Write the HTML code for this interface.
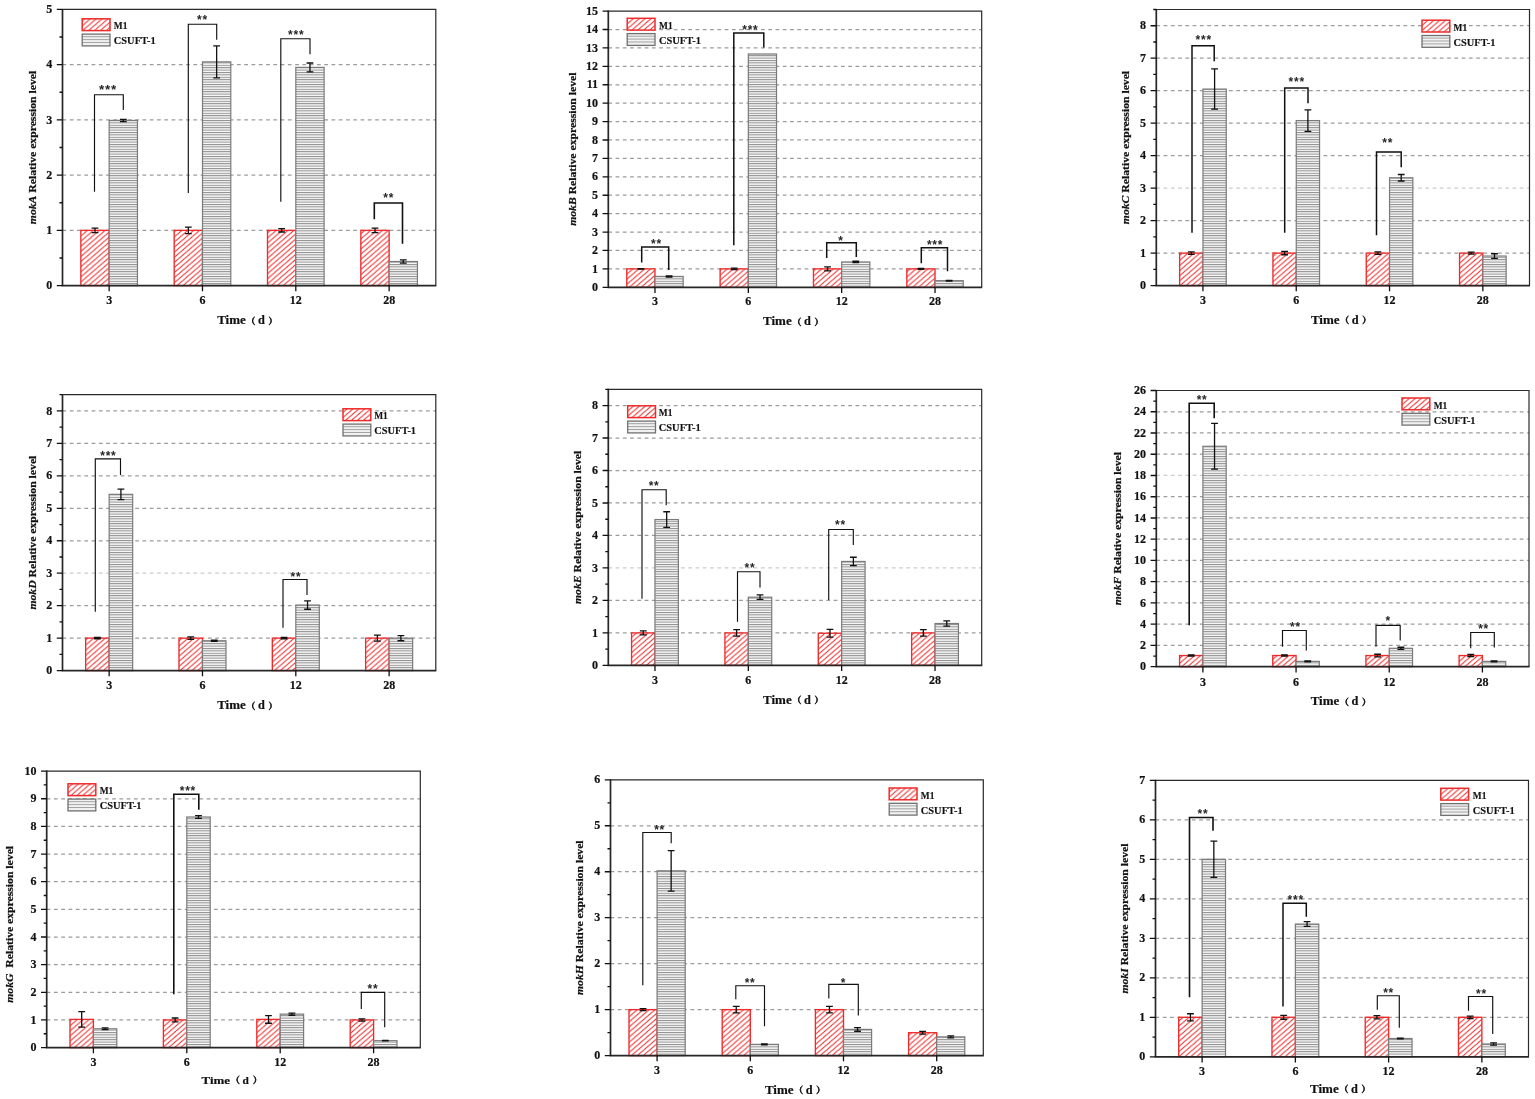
<!DOCTYPE html>
<html lang="en"><head><meta charset="utf-8"><title>mok gene relative expression levels</title>
<style>html,body{margin:0;padding:0;background:#fff}body{width:1535px;height:1099px;overflow:hidden}svg{display:block}text{font-family:"Liberation Serif","Noto Serif CJK SC",serif;font-weight:bold;fill:#111;stroke:#111;stroke-width:0.2px}.cj{font-family:"Noto Serif CJK SC","Liberation Serif",serif;font-weight:bold;stroke-width:0.6px}.st{font-family:"Liberation Sans",sans-serif;font-weight:bold;fill:#262626;stroke:none;letter-spacing:0.75px}.lg{stroke-width:0.14px}.yl{stroke-width:0.22px}.x7{font-family:"Noto Serif CJK SC","Liberation Serif",serif}</style></head><body>
<svg width="1535" height="1099" viewBox="0 0 1535 1099">
<defs>
<pattern id="hr" width="5.9" height="5.1" patternUnits="userSpaceOnUse"><rect width="5.9" height="5.1" fill="#fff"/><path d="M-5.9 5.1L5.9 -5.1M0 10.2L11.8 0M-5.9 10.2L5.9 0" stroke="#ee2a2a" stroke-width="1.05" fill="none"/></pattern>
<pattern id="hg" width="8" height="2.4" patternUnits="userSpaceOnUse"><rect width="8" height="2.4" fill="#fafafa"/><rect width="8" height="1.0" fill="#8c8c8c"/></pattern>
<pattern id="hg2" width="8" height="2.6" patternUnits="userSpaceOnUse"><rect width="8" height="2.6" fill="#e4e4e4"/><rect width="8" height="0.9" fill="#8a8a8a"/></pattern>
</defs>
<rect width="1535" height="1099" fill="#fff"/>
<g id="panel-A">
<line x1="62.5" y1="230.36" x2="435.8" y2="230.36" stroke="#9c9c9c" stroke-width="1.25" stroke-dasharray="3.75 3.52"/>
<line x1="62.5" y1="175.12" x2="435.8" y2="175.12" stroke="#9c9c9c" stroke-width="1.25" stroke-dasharray="3.75 3.52"/>
<line x1="62.5" y1="119.88" x2="435.8" y2="119.88" stroke="#9c9c9c" stroke-width="1.25" stroke-dasharray="3.75 3.52"/>
<line x1="62.5" y1="64.64" x2="435.8" y2="64.64" stroke="#9c9c9c" stroke-width="1.25" stroke-dasharray="3.75 3.52"/>
<rect x="80.86" y="230.36" width="28.3" height="55.24" fill="url(#hr)" stroke="#ee2a2a" stroke-width="1.35"/>
<rect x="109.16" y="120.43" width="28.3" height="165.17" fill="url(#hg)" stroke="#7a7a7a" stroke-width="1.2"/>
<rect x="174.19" y="230.36" width="28.3" height="55.24" fill="url(#hr)" stroke="#ee2a2a" stroke-width="1.35"/>
<rect x="202.49" y="61.88" width="28.3" height="223.72" fill="url(#hg)" stroke="#7a7a7a" stroke-width="1.2"/>
<rect x="267.51" y="230.36" width="28.3" height="55.24" fill="url(#hr)" stroke="#ee2a2a" stroke-width="1.35"/>
<rect x="295.81" y="67.4" width="28.3" height="218.2" fill="url(#hg)" stroke="#7a7a7a" stroke-width="1.2"/>
<rect x="360.84" y="230.36" width="28.3" height="55.24" fill="url(#hr)" stroke="#ee2a2a" stroke-width="1.35"/>
<rect x="389.14" y="261.52" width="28.3" height="24.08" fill="url(#hg)" stroke="#7a7a7a" stroke-width="1.2"/>
<path d="M91.61 228.15H98.41M91.61 232.57H98.41M95.01 228.15V232.57" fill="none" stroke="#111" stroke-width="1.3"/>
<path d="M119.91 119.33H126.71M119.91 121.54H126.71M123.31 119.33V121.54" fill="none" stroke="#111" stroke-width="1.3"/>
<path d="M184.94 227.05H191.74M184.94 233.67H191.74M188.34 227.05V233.67" fill="none" stroke="#111" stroke-width="1.3"/>
<path d="M213.24 45.86H220.04M213.24 77.9H220.04M216.64 45.86V77.9" fill="none" stroke="#111" stroke-width="1.3"/>
<path d="M278.26 228.7H285.06M278.26 232.02H285.06M281.66 228.7V232.02" fill="none" stroke="#111" stroke-width="1.3"/>
<path d="M306.56 62.98H313.36M306.56 71.82H313.36M309.96 62.98V71.82" fill="none" stroke="#111" stroke-width="1.3"/>
<path d="M371.59 228.15H378.39M371.59 232.57H378.39M374.99 228.15V232.57" fill="none" stroke="#111" stroke-width="1.3"/>
<path d="M399.89 259.86H406.69M399.89 263.17H406.69M403.29 259.86V263.17" fill="none" stroke="#111" stroke-width="1.3"/>
<path d="M62.5 9.4H435.8V285.6" fill="none" stroke="#2a2a2a" stroke-width="1.2"/>
<path d="M62.5 8.9V285.6H436.3" fill="none" stroke="#262626" stroke-width="1.7" stroke-linejoin="miter"/>
<path d="M62.5 285.6h-5.7M62.5 230.36h-5.7M62.5 175.12h-5.7M62.5 119.88h-5.7M62.5 64.64h-5.7M62.5 9.4h-5.7M62.5 257.98h-3M62.5 202.74h-3M62.5 147.5h-3M62.5 92.26h-3M62.5 37.02h-3M109.16 285.6v5.7M202.49 285.6v5.7M295.81 285.6v5.7M389.14 285.6v5.7" fill="none" stroke="#111" stroke-width="1.3"/>
<g font-size="12.0" text-anchor="end">
<text x="52.2" y="289.22">0</text>
<text x="52.2" y="233.98">1</text>
<text x="52.2" y="178.74">2</text>
<text x="52.2" y="123.5">3</text>
<text x="52.2" y="68.26">4</text>
<text x="52.2" y="13.02">5</text>
</g>
<g font-size="12.0" text-anchor="middle">
<text x="109.16" y="304.4">3</text>
<text x="202.49" y="304.4">6</text>
<text x="295.81" y="304.4">12</text>
<text x="389.14" y="304.4">28</text>
</g>
<text y="324.3" font-size="12.3"><tspan x="217.2" textLength="28.6" lengthAdjust="spacingAndGlyphs">Time</tspan><tspan class="cj" font-size="8.8" x="246.57" dy="-0.6">（</tspan><tspan x="258.1" dy="0.6">d</tspan><tspan class="cj" font-size="8.8" x="268.57" dy="-0.6">）</tspan></text>
<text class="yl" x="0" y="0" font-size="11.04" text-anchor="middle" transform="translate(35.5 147.5) rotate(-90) scale(1.06 1)"><tspan font-style="italic">mokA</tspan> Relative expression level</text>
<rect x="82.2" y="34.1" width="27.8" height="11.8" fill="#f1f1f1" stroke="none"/>
<path d="M82.2 36.7h27.8M82.2 39.6h27.8M82.2 42.5h27.8" fill="none" stroke="#9a9a9a" stroke-width="0.9"/>
<rect x="82.2" y="34.1" width="27.8" height="11.8" fill="none" stroke="#707070" stroke-width="1.3"/>
<rect x="82.2" y="18.8" width="27.8" height="11.8" fill="url(#hr)" stroke="#ee2a2a" stroke-width="1.5"/>
<text class="lg" x="113.8" y="29.4" font-size="10" textLength="13.6" lengthAdjust="spacingAndGlyphs">M1</text>
<text class="lg" x="113.8" y="44.3" font-size="10" textLength="41.9" lengthAdjust="spacingAndGlyphs">CSUFT-1</text>
<path d="M94.5 191.7V94.7H123.3V110" fill="none" stroke="#111" stroke-width="1.15"/>
<text class="st" x="107.9" y="94.39" font-size="13.5" text-anchor="middle">***</text>
<path d="M188.3 193V24.2H216.7V39.7" fill="none" stroke="#111" stroke-width="1.15"/>
<text class="st" x="202.4" y="23.62" font-size="12.0" text-anchor="middle">**</text>
<path d="M280.8 201.7V38.7H310V54.2" fill="none" stroke="#111" stroke-width="1.15"/>
<text class="st" x="296.2" y="38.92" font-size="12.0" text-anchor="middle">***</text>
<path d="M374.3 219.2V203H402.5V243.7" fill="none" stroke="#111" stroke-width="1.6"/>
<text class="st" x="388.7" y="202.42" font-size="12.0" text-anchor="middle">**</text>
</g>
<g id="panel-B">
<line x1="608.3" y1="268.89" x2="981.7" y2="268.89" stroke="#9c9c9c" stroke-width="1.25" stroke-dasharray="3.75 3.52"/>
<line x1="608.3" y1="250.47" x2="981.7" y2="250.47" stroke="#9c9c9c" stroke-width="1.25" stroke-dasharray="3.75 3.52"/>
<line x1="608.3" y1="232.06" x2="981.7" y2="232.06" stroke="#9c9c9c" stroke-width="1.25" stroke-dasharray="3.75 3.52"/>
<line x1="608.3" y1="213.65" x2="981.7" y2="213.65" stroke="#9c9c9c" stroke-width="1.25" stroke-dasharray="3.75 3.52"/>
<line x1="608.3" y1="195.23" x2="981.7" y2="195.23" stroke="#9c9c9c" stroke-width="1.25" stroke-dasharray="3.75 3.52"/>
<line x1="608.3" y1="176.82" x2="981.7" y2="176.82" stroke="#9c9c9c" stroke-width="1.25" stroke-dasharray="3.75 3.52"/>
<line x1="608.3" y1="158.41" x2="981.7" y2="158.41" stroke="#9c9c9c" stroke-width="1.25" stroke-dasharray="3.75 3.52"/>
<line x1="608.3" y1="139.99" x2="981.7" y2="139.99" stroke="#9c9c9c" stroke-width="1.25" stroke-dasharray="3.75 3.52"/>
<line x1="608.3" y1="121.58" x2="981.7" y2="121.58" stroke="#9c9c9c" stroke-width="1.25" stroke-dasharray="3.75 3.52"/>
<line x1="608.3" y1="103.17" x2="981.7" y2="103.17" stroke="#9c9c9c" stroke-width="1.25" stroke-dasharray="3.75 3.52"/>
<line x1="608.3" y1="84.75" x2="981.7" y2="84.75" stroke="#9c9c9c" stroke-width="1.25" stroke-dasharray="3.75 3.52"/>
<line x1="608.3" y1="66.34" x2="981.7" y2="66.34" stroke="#9c9c9c" stroke-width="1.25" stroke-dasharray="3.75 3.52"/>
<line x1="608.3" y1="47.93" x2="981.7" y2="47.93" stroke="#9c9c9c" stroke-width="1.25" stroke-dasharray="3.75 3.52"/>
<line x1="608.3" y1="29.51" x2="981.7" y2="29.51" stroke="#9c9c9c" stroke-width="1.25" stroke-dasharray="3.75 3.52"/>
<rect x="626.77" y="268.89" width="28.2" height="18.41" fill="url(#hr)" stroke="#ee2a2a" stroke-width="1.35"/>
<rect x="654.97" y="276.44" width="28.2" height="10.86" fill="url(#hg)" stroke="#7a7a7a" stroke-width="1.2"/>
<rect x="720.12" y="268.89" width="28.2" height="18.41" fill="url(#hr)" stroke="#ee2a2a" stroke-width="1.35"/>
<rect x="748.33" y="54" width="28.2" height="233.3" fill="url(#hg)" stroke="#7a7a7a" stroke-width="1.2"/>
<rect x="813.47" y="268.89" width="28.2" height="18.41" fill="url(#hr)" stroke="#ee2a2a" stroke-width="1.35"/>
<rect x="841.67" y="261.98" width="28.2" height="25.32" fill="url(#hg)" stroke="#7a7a7a" stroke-width="1.2"/>
<rect x="906.83" y="268.89" width="28.2" height="18.41" fill="url(#hr)" stroke="#ee2a2a" stroke-width="1.35"/>
<rect x="935.03" y="280.67" width="28.2" height="6.63" fill="url(#hg)" stroke="#7a7a7a" stroke-width="1.2"/>
<path d="M637.47 268.7H644.27M637.47 269.07H644.27M640.87 268.7V269.07" fill="none" stroke="#111" stroke-width="1.3"/>
<path d="M665.67 275.88H672.47M665.67 276.99H672.47M669.07 275.88V276.99" fill="none" stroke="#111" stroke-width="1.3"/>
<path d="M730.83 268.15H737.62M730.83 269.62H737.62M734.23 268.15V269.62" fill="none" stroke="#111" stroke-width="1.3"/>
<path d="M824.17 266.86H830.97M824.17 270.91H830.97M827.57 266.86V270.91" fill="none" stroke="#111" stroke-width="1.3"/>
<path d="M852.38 261.25H859.17M852.38 262.72H859.17M855.77 261.25V262.72" fill="none" stroke="#111" stroke-width="1.3"/>
<path d="M917.53 268.52H924.33M917.53 269.25H924.33M920.93 268.52V269.25" fill="none" stroke="#111" stroke-width="1.3"/>
<path d="M945.73 280.3H952.53M945.73 281.04H952.53M949.13 280.3V281.04" fill="none" stroke="#111" stroke-width="1.3"/>
<path d="M608.3 11.1H981.7V287.3" fill="none" stroke="#2a2a2a" stroke-width="1.2"/>
<path d="M608.3 10.6V287.3H982.2" fill="none" stroke="#262626" stroke-width="1.7" stroke-linejoin="miter"/>
<path d="M608.3 287.3h-5.7M608.3 268.89h-5.7M608.3 250.47h-5.7M608.3 232.06h-5.7M608.3 213.65h-5.7M608.3 195.23h-5.7M608.3 176.82h-5.7M608.3 158.41h-5.7M608.3 139.99h-5.7M608.3 121.58h-5.7M608.3 103.17h-5.7M608.3 84.75h-5.7M608.3 66.34h-5.7M608.3 47.93h-5.7M608.3 29.51h-5.7M608.3 11.1h-5.7M654.97 287.3v5.7M748.33 287.3v5.7M841.67 287.3v5.7M935.03 287.3v5.7" fill="none" stroke="#111" stroke-width="1.3"/>
<g font-size="12.0" text-anchor="end">
<text x="598" y="290.92">0</text>
<text x="598" y="272.51">1</text>
<text x="598" y="254.09">2</text>
<text x="598" y="235.68">3</text>
<text x="598" y="217.27">4</text>
<text x="598" y="198.85">5</text>
<text x="598" y="180.44">6</text>
<text x="598" y="162.03">7</text>
<text x="598" y="143.61">8</text>
<text x="598" y="125.2">9</text>
<text x="598" y="106.79">10</text>
<text x="598" y="88.37">11</text>
<text x="598" y="69.96">12</text>
<text x="598" y="51.55">13</text>
<text x="598" y="33.13">14</text>
<text x="598" y="14.72">15</text>
</g>
<g font-size="12.0" text-anchor="middle">
<text x="654.97" y="305.2">3</text>
<text x="748.33" y="305.2">6</text>
<text x="841.67" y="305.2">12</text>
<text x="935.03" y="305.2">28</text>
</g>
<text y="325.3" font-size="12.3"><tspan x="763.05" textLength="28.6" lengthAdjust="spacingAndGlyphs">Time</tspan><tspan class="cj" font-size="8.8" x="792.42" dy="-0.6">（</tspan><tspan x="803.95" dy="0.6">d</tspan><tspan class="cj" font-size="8.8" x="814.42" dy="-0.6">）</tspan></text>
<text class="yl" x="0" y="0" font-size="11.04" text-anchor="middle" transform="translate(576.2 149.2) rotate(-90) scale(1.06 1)"><tspan font-style="italic">mokB</tspan> Relative expression level</text>
<rect x="627.2" y="33.6" width="27.8" height="11.8" fill="#f1f1f1" stroke="none"/>
<path d="M627.2 36.2h27.8M627.2 39.1h27.8M627.2 42h27.8" fill="none" stroke="#9a9a9a" stroke-width="0.9"/>
<rect x="627.2" y="33.6" width="27.8" height="11.8" fill="none" stroke="#707070" stroke-width="1.3"/>
<rect x="627.2" y="18.3" width="27.8" height="11.8" fill="url(#hr)" stroke="#ee2a2a" stroke-width="1.5"/>
<text class="lg" x="659" y="28.9" font-size="10" textLength="13.6" lengthAdjust="spacingAndGlyphs">M1</text>
<text class="lg" x="659" y="43.8" font-size="10" textLength="41.9" lengthAdjust="spacingAndGlyphs">CSUFT-1</text>
<path d="M641.7 262.5V247H668.7V270" fill="none" stroke="#111" stroke-width="1.5"/>
<text class="st" x="656.4" y="248.12" font-size="12.0" text-anchor="middle">**</text>
<path d="M733.8 245.3V33.1H763.8V47.5" fill="none" stroke="#111" stroke-width="1.5"/>
<text class="st" x="750.4" y="33.92" font-size="12.0" text-anchor="middle">***</text>
<path d="M826.7 258V242.8H856.3V257" fill="none" stroke="#111" stroke-width="1.5"/>
<text class="st" x="840.9" y="245.12" font-size="12.0" text-anchor="middle">*</text>
<path d="M921.3 263.3V247.8H947.5V271.3" fill="none" stroke="#111" stroke-width="1.5"/>
<text class="st" x="935.1" y="249.12" font-size="12.0" text-anchor="middle">***</text>
</g>
<g id="panel-C">
<line x1="1156.3" y1="253.12" x2="1529.5" y2="253.12" stroke="#9c9c9c" stroke-width="1.25" stroke-dasharray="3.75 3.52"/>
<line x1="1156.3" y1="220.64" x2="1529.5" y2="220.64" stroke="#9c9c9c" stroke-width="1.25" stroke-dasharray="3.75 3.52"/>
<line x1="1156.3" y1="188.15" x2="1529.5" y2="188.15" stroke="#cccccc" stroke-width="1.25" stroke-dasharray="3.75 3.52"/>
<line x1="1156.3" y1="155.67" x2="1529.5" y2="155.67" stroke="#9c9c9c" stroke-width="1.25" stroke-dasharray="3.75 3.52"/>
<line x1="1156.3" y1="123.19" x2="1529.5" y2="123.19" stroke="#9c9c9c" stroke-width="1.25" stroke-dasharray="3.75 3.52"/>
<line x1="1156.3" y1="90.71" x2="1529.5" y2="90.71" stroke="#9c9c9c" stroke-width="1.25" stroke-dasharray="3.75 3.52"/>
<line x1="1156.3" y1="58.22" x2="1529.5" y2="58.22" stroke="#9c9c9c" stroke-width="1.25" stroke-dasharray="3.75 3.52"/>
<line x1="1156.3" y1="25.74" x2="1529.5" y2="25.74" stroke="#9c9c9c" stroke-width="1.25" stroke-dasharray="3.75 3.52"/>
<rect x="1179.65" y="253.12" width="23.3" height="32.48" fill="url(#hr)" stroke="#ee2a2a" stroke-width="1.35"/>
<rect x="1202.95" y="89.08" width="23.3" height="196.52" fill="url(#hg)" stroke="#7a7a7a" stroke-width="1.2"/>
<rect x="1272.95" y="253.12" width="23.3" height="32.48" fill="url(#hr)" stroke="#ee2a2a" stroke-width="1.35"/>
<rect x="1296.25" y="120.59" width="23.3" height="165.01" fill="url(#hg)" stroke="#7a7a7a" stroke-width="1.2"/>
<rect x="1366.25" y="253.12" width="23.3" height="32.48" fill="url(#hr)" stroke="#ee2a2a" stroke-width="1.35"/>
<rect x="1389.55" y="177.76" width="23.3" height="107.84" fill="url(#hg)" stroke="#7a7a7a" stroke-width="1.2"/>
<rect x="1459.55" y="253.12" width="23.3" height="32.48" fill="url(#hr)" stroke="#ee2a2a" stroke-width="1.35"/>
<rect x="1482.85" y="256.04" width="23.3" height="29.56" fill="url(#hg)" stroke="#7a7a7a" stroke-width="1.2"/>
<path d="M1187.9 251.82H1194.7M1187.9 254.42H1194.7M1191.3 251.82V254.42" fill="none" stroke="#111" stroke-width="1.3"/>
<path d="M1211.2 68.94H1218M1211.2 109.22H1218M1214.6 68.94V109.22" fill="none" stroke="#111" stroke-width="1.3"/>
<path d="M1281.2 251.49H1288M1281.2 254.74H1288M1284.6 251.49V254.74" fill="none" stroke="#111" stroke-width="1.3"/>
<path d="M1304.5 109.87H1311.3M1304.5 131.31H1311.3M1307.9 109.87V131.31" fill="none" stroke="#111" stroke-width="1.3"/>
<path d="M1374.5 251.82H1381.3M1374.5 254.42H1381.3M1377.9 251.82V254.42" fill="none" stroke="#111" stroke-width="1.3"/>
<path d="M1397.8 174.51H1404.6M1397.8 181.01H1404.6M1401.2 174.51V181.01" fill="none" stroke="#111" stroke-width="1.3"/>
<path d="M1467.8 252.14H1474.6M1467.8 254.09H1474.6M1471.2 252.14V254.09" fill="none" stroke="#111" stroke-width="1.3"/>
<path d="M1491.1 253.77H1497.9M1491.1 258.31H1497.9M1494.5 253.77V258.31" fill="none" stroke="#111" stroke-width="1.3"/>
<path d="M1156.3 9.5H1529.5V285.6" fill="none" stroke="#2a2a2a" stroke-width="1.2"/>
<path d="M1156.3 9V285.6H1530" fill="none" stroke="#262626" stroke-width="1.7" stroke-linejoin="miter"/>
<path d="M1156.3 285.6h-5.7M1156.3 253.12h-5.7M1156.3 220.64h-5.7M1156.3 188.15h-5.7M1156.3 155.67h-5.7M1156.3 123.19h-5.7M1156.3 90.71h-5.7M1156.3 58.22h-5.7M1156.3 25.74h-5.7M1156.3 269.36h-3M1156.3 236.88h-3M1156.3 204.39h-3M1156.3 171.91h-3M1156.3 139.43h-3M1156.3 106.95h-3M1156.3 74.46h-3M1156.3 41.98h-3M1156.3 9.5h-3M1202.95 285.6v5.7M1296.25 285.6v5.7M1389.55 285.6v5.7M1482.85 285.6v5.7" fill="none" stroke="#111" stroke-width="1.3"/>
<g font-size="12.0" text-anchor="end">
<text x="1146" y="289.22">0</text>
<text x="1146" y="256.74">1</text>
<text x="1146" y="224.26">2</text>
<text x="1146" y="191.77">3</text>
<text x="1146" y="159.29">4</text>
<text x="1146" y="126.81">5</text>
<text x="1146" y="94.33">6</text>
<text x="1146" y="61.84">7</text>
<text x="1146" y="29.36">8</text>
</g>
<g font-size="12.0" text-anchor="middle">
<text x="1202.95" y="304.4">3</text>
<text x="1296.25" y="304.4">6</text>
<text x="1389.55" y="304.4">12</text>
<text x="1482.85" y="304.4">28</text>
</g>
<text y="324" font-size="12.3"><tspan x="1310.95" textLength="28.6" lengthAdjust="spacingAndGlyphs">Time</tspan><tspan class="cj" font-size="8.8" x="1340.32" dy="-0.6">（</tspan><tspan x="1351.85" dy="0.6">d</tspan><tspan class="cj" font-size="8.8" x="1362.32" dy="-0.6">）</tspan></text>
<text class="yl" x="0" y="0" font-size="11.04" text-anchor="middle" transform="translate(1128.7 147.55) rotate(-90) scale(1.06 1)"><tspan font-style="italic">mokC</tspan> Relative expression level</text>
<rect x="1422" y="35.5" width="27.8" height="11.8" fill="#f1f1f1" stroke="none"/>
<path d="M1422 38.1h27.8M1422 41h27.8M1422 43.9h27.8" fill="none" stroke="#9a9a9a" stroke-width="0.9"/>
<rect x="1422" y="35.5" width="27.8" height="11.8" fill="none" stroke="#707070" stroke-width="1.3"/>
<rect x="1422" y="20.2" width="27.8" height="11.8" fill="url(#hr)" stroke="#ee2a2a" stroke-width="1.5"/>
<text class="lg" x="1453.5" y="30.8" font-size="10" textLength="13.6" lengthAdjust="spacingAndGlyphs">M1</text>
<text class="lg" x="1453.5" y="45.7" font-size="10" textLength="41.9" lengthAdjust="spacingAndGlyphs">CSUFT-1</text>
<path d="M1192 232.8V45.8H1214.2V61.3" fill="none" stroke="#111" stroke-width="1.5"/>
<text class="st" x="1203.7" y="44.42" font-size="12.0" text-anchor="middle">***</text>
<path d="M1284.7 232.8V88H1308V103.3" fill="none" stroke="#111" stroke-width="1.5"/>
<text class="st" x="1296.7" y="86.12" font-size="12.0" text-anchor="middle">***</text>
<path d="M1376.5 235.3V152H1401.2V167.3" fill="none" stroke="#111" stroke-width="1.5"/>
<text class="st" x="1387.7" y="147.42" font-size="12.0" text-anchor="middle">**</text>
</g>
<g id="panel-D">
<line x1="62.5" y1="638.14" x2="435.8" y2="638.14" stroke="#9c9c9c" stroke-width="1.25" stroke-dasharray="3.75 3.52"/>
<line x1="62.5" y1="605.68" x2="435.8" y2="605.68" stroke="#9c9c9c" stroke-width="1.25" stroke-dasharray="3.75 3.52"/>
<line x1="62.5" y1="573.22" x2="435.8" y2="573.22" stroke="#cccccc" stroke-width="1.25" stroke-dasharray="3.75 3.52"/>
<line x1="62.5" y1="540.76" x2="435.8" y2="540.76" stroke="#9c9c9c" stroke-width="1.25" stroke-dasharray="3.75 3.52"/>
<line x1="62.5" y1="508.31" x2="435.8" y2="508.31" stroke="#9c9c9c" stroke-width="1.25" stroke-dasharray="3.75 3.52"/>
<line x1="62.5" y1="475.85" x2="435.8" y2="475.85" stroke="#9c9c9c" stroke-width="1.25" stroke-dasharray="3.75 3.52"/>
<line x1="62.5" y1="443.39" x2="435.8" y2="443.39" stroke="#9c9c9c" stroke-width="1.25" stroke-dasharray="3.75 3.52"/>
<line x1="62.5" y1="410.93" x2="435.8" y2="410.93" stroke="#9c9c9c" stroke-width="1.25" stroke-dasharray="3.75 3.52"/>
<rect x="85.66" y="638.14" width="23.5" height="32.46" fill="url(#hr)" stroke="#ee2a2a" stroke-width="1.35"/>
<rect x="109.16" y="494.35" width="23.5" height="176.25" fill="url(#hg)" stroke="#7a7a7a" stroke-width="1.2"/>
<rect x="178.99" y="638.14" width="23.5" height="32.46" fill="url(#hr)" stroke="#ee2a2a" stroke-width="1.35"/>
<rect x="202.49" y="640.74" width="23.5" height="29.86" fill="url(#hg)" stroke="#7a7a7a" stroke-width="1.2"/>
<rect x="272.31" y="638.14" width="23.5" height="32.46" fill="url(#hr)" stroke="#ee2a2a" stroke-width="1.35"/>
<rect x="295.81" y="605.03" width="23.5" height="65.57" fill="url(#hg)" stroke="#7a7a7a" stroke-width="1.2"/>
<rect x="365.64" y="638.14" width="23.5" height="32.46" fill="url(#hr)" stroke="#ee2a2a" stroke-width="1.35"/>
<rect x="389.14" y="638.14" width="23.5" height="32.46" fill="url(#hg)" stroke="#7a7a7a" stroke-width="1.2"/>
<path d="M94.01 637.49H100.81M94.01 638.79H100.81M97.41 637.49V638.79" fill="none" stroke="#111" stroke-width="1.3"/>
<path d="M117.51 489.16H124.31M117.51 499.54H124.31M120.91 489.16V499.54" fill="none" stroke="#111" stroke-width="1.3"/>
<path d="M187.34 636.84H194.14M187.34 639.44H194.14M190.74 636.84V639.44" fill="none" stroke="#111" stroke-width="1.3"/>
<path d="M210.84 640.09H217.64M210.84 641.39H217.64M214.24 640.09V641.39" fill="none" stroke="#111" stroke-width="1.3"/>
<path d="M280.66 637.49H287.46M280.66 638.79H287.46M284.06 637.49V638.79" fill="none" stroke="#111" stroke-width="1.3"/>
<path d="M304.16 600.81H310.96M304.16 609.25H310.96M307.56 600.81V609.25" fill="none" stroke="#111" stroke-width="1.3"/>
<path d="M373.99 635.22H380.79M373.99 641.06H380.79M377.39 635.22V641.06" fill="none" stroke="#111" stroke-width="1.3"/>
<path d="M397.49 635.54H404.29M397.49 640.74H404.29M400.89 635.54V640.74" fill="none" stroke="#111" stroke-width="1.3"/>
<path d="M62.5 394.7H435.8V670.6" fill="none" stroke="#2a2a2a" stroke-width="1.2"/>
<path d="M62.5 394.2V670.6H436.3" fill="none" stroke="#262626" stroke-width="1.7" stroke-linejoin="miter"/>
<path d="M62.5 670.6h-5.7M62.5 638.14h-5.7M62.5 605.68h-5.7M62.5 573.22h-5.7M62.5 540.76h-5.7M62.5 508.31h-5.7M62.5 475.85h-5.7M62.5 443.39h-5.7M62.5 410.93h-5.7M62.5 654.37h-3M62.5 621.91h-3M62.5 589.45h-3M62.5 556.99h-3M62.5 524.54h-3M62.5 492.08h-3M62.5 459.62h-3M62.5 427.16h-3M62.5 394.7h-3M109.16 670.6v5.7M202.49 670.6v5.7M295.81 670.6v5.7M389.14 670.6v5.7" fill="none" stroke="#111" stroke-width="1.3"/>
<g font-size="12.0" text-anchor="end">
<text x="52.2" y="674.22">0</text>
<text x="52.2" y="641.76">1</text>
<text x="52.2" y="609.3">2</text>
<text x="52.2" y="576.84">3</text>
<text x="52.2" y="544.38">4</text>
<text x="52.2" y="511.93">5</text>
<text x="52.2" y="479.47">6</text>
<text x="52.2" y="447.01">7</text>
<text x="52.2" y="414.55">8</text>
</g>
<g font-size="12.0" text-anchor="middle">
<text x="109.16" y="689.4">3</text>
<text x="202.49" y="689.4">6</text>
<text x="295.81" y="689.4">12</text>
<text x="389.14" y="689.4">28</text>
</g>
<text y="709.3" font-size="12.3"><tspan x="217.2" textLength="28.6" lengthAdjust="spacingAndGlyphs">Time</tspan><tspan class="cj" font-size="8.8" x="246.57" dy="-0.6">（</tspan><tspan x="258.1" dy="0.6">d</tspan><tspan class="cj" font-size="8.8" x="268.57" dy="-0.6">）</tspan></text>
<text class="yl" x="0" y="0" font-size="11.04" text-anchor="middle" transform="translate(35.5 532.65) rotate(-90) scale(1.06 1)"><tspan font-style="italic">mokD</tspan> Relative expression level</text>
<rect x="343" y="424.1" width="27.8" height="11.8" fill="#f1f1f1" stroke="none"/>
<path d="M343 426.7h27.8M343 429.6h27.8M343 432.5h27.8" fill="none" stroke="#9a9a9a" stroke-width="0.9"/>
<rect x="343" y="424.1" width="27.8" height="11.8" fill="none" stroke="#707070" stroke-width="1.3"/>
<rect x="343" y="408.8" width="27.8" height="11.8" fill="url(#hr)" stroke="#ee2a2a" stroke-width="1.5"/>
<text class="lg" x="374.2" y="419.4" font-size="10" textLength="13.6" lengthAdjust="spacingAndGlyphs">M1</text>
<text class="lg" x="374.2" y="434.3" font-size="10" textLength="41.9" lengthAdjust="spacingAndGlyphs">CSUFT-1</text>
<path d="M95.3 611.7V458.8H120.5V475" fill="none" stroke="#111" stroke-width="1.15"/>
<text class="st" x="108.4" y="459.92" font-size="12.0" text-anchor="middle">***</text>
<path d="M283 627.8V579.5H307V595" fill="none" stroke="#111" stroke-width="1.15"/>
<text class="st" x="295.9" y="581.42" font-size="12.0" text-anchor="middle">**</text>
</g>
<g id="panel-E">
<line x1="608.3" y1="632.92" x2="981.7" y2="632.92" stroke="#9c9c9c" stroke-width="1.25" stroke-dasharray="3.75 3.52"/>
<line x1="608.3" y1="600.44" x2="981.7" y2="600.44" stroke="#9c9c9c" stroke-width="1.25" stroke-dasharray="3.75 3.52"/>
<line x1="608.3" y1="567.95" x2="981.7" y2="567.95" stroke="#cccccc" stroke-width="1.25" stroke-dasharray="3.75 3.52"/>
<line x1="608.3" y1="535.47" x2="981.7" y2="535.47" stroke="#9c9c9c" stroke-width="1.25" stroke-dasharray="3.75 3.52"/>
<line x1="608.3" y1="502.99" x2="981.7" y2="502.99" stroke="#9c9c9c" stroke-width="1.25" stroke-dasharray="3.75 3.52"/>
<line x1="608.3" y1="470.51" x2="981.7" y2="470.51" stroke="#9c9c9c" stroke-width="1.25" stroke-dasharray="3.75 3.52"/>
<line x1="608.3" y1="438.02" x2="981.7" y2="438.02" stroke="#9c9c9c" stroke-width="1.25" stroke-dasharray="3.75 3.52"/>
<line x1="608.3" y1="405.54" x2="981.7" y2="405.54" stroke="#9c9c9c" stroke-width="1.25" stroke-dasharray="3.75 3.52"/>
<rect x="631.57" y="632.92" width="23.4" height="32.48" fill="url(#hr)" stroke="#ee2a2a" stroke-width="1.35"/>
<rect x="654.97" y="519.55" width="23.4" height="145.85" fill="url(#hg)" stroke="#7a7a7a" stroke-width="1.2"/>
<rect x="724.93" y="632.92" width="23.4" height="32.48" fill="url(#hr)" stroke="#ee2a2a" stroke-width="1.35"/>
<rect x="748.33" y="597.19" width="23.4" height="68.21" fill="url(#hg)" stroke="#7a7a7a" stroke-width="1.2"/>
<rect x="818.27" y="633.24" width="23.4" height="32.16" fill="url(#hr)" stroke="#ee2a2a" stroke-width="1.35"/>
<rect x="841.67" y="561.46" width="23.4" height="103.94" fill="url(#hg)" stroke="#7a7a7a" stroke-width="1.2"/>
<rect x="911.63" y="632.92" width="23.4" height="32.48" fill="url(#hr)" stroke="#ee2a2a" stroke-width="1.35"/>
<rect x="935.03" y="623.5" width="23.4" height="41.9" fill="url(#hg)" stroke="#7a7a7a" stroke-width="1.2"/>
<path d="M639.87 630.97H646.67M639.87 634.87H646.67M643.27 630.97V634.87" fill="none" stroke="#111" stroke-width="1.3"/>
<path d="M663.27 511.76H670.07M663.27 527.35H670.07M666.67 511.76V527.35" fill="none" stroke="#111" stroke-width="1.3"/>
<path d="M733.23 629.67H740.02M733.23 636.17H740.02M736.62 629.67V636.17" fill="none" stroke="#111" stroke-width="1.3"/>
<path d="M756.63 594.91H763.43M756.63 599.46H763.43M760.03 594.91V599.46" fill="none" stroke="#111" stroke-width="1.3"/>
<path d="M826.57 629.34H833.37M826.57 637.14H833.37M829.97 629.34V637.14" fill="none" stroke="#111" stroke-width="1.3"/>
<path d="M849.98 557.23H856.77M849.98 565.68H856.77M853.38 557.23V565.68" fill="none" stroke="#111" stroke-width="1.3"/>
<path d="M919.93 629.67H926.73M919.93 636.17H926.73M923.33 629.67V636.17" fill="none" stroke="#111" stroke-width="1.3"/>
<path d="M943.33 620.9H950.13M943.33 626.1H950.13M946.73 620.9V626.1" fill="none" stroke="#111" stroke-width="1.3"/>
<path d="M608.3 389.3H981.7V665.4" fill="none" stroke="#2a2a2a" stroke-width="1.2"/>
<path d="M608.3 388.8V665.4H982.2" fill="none" stroke="#262626" stroke-width="1.7" stroke-linejoin="miter"/>
<path d="M608.3 665.4h-5.7M608.3 632.92h-5.7M608.3 600.44h-5.7M608.3 567.95h-5.7M608.3 535.47h-5.7M608.3 502.99h-5.7M608.3 470.51h-5.7M608.3 438.02h-5.7M608.3 405.54h-5.7M608.3 649.16h-3M608.3 616.68h-3M608.3 584.19h-3M608.3 551.71h-3M608.3 519.23h-3M608.3 486.75h-3M608.3 454.26h-3M608.3 421.78h-3M608.3 389.3h-3M654.97 665.4v5.7M748.33 665.4v5.7M841.67 665.4v5.7M935.03 665.4v5.7" fill="none" stroke="#111" stroke-width="1.3"/>
<g font-size="12.0" text-anchor="end">
<text x="598" y="669.02">0</text>
<text x="598" y="636.54">1</text>
<text x="598" y="604.06">2</text>
<text x="598" y="571.57">3</text>
<text x="598" y="539.09">4</text>
<text x="598" y="506.61">5</text>
<text x="598" y="474.13">6</text>
<text x="598" y="441.64">7</text>
<text x="598" y="409.16">8</text>
</g>
<g font-size="12.0" text-anchor="middle">
<text x="654.97" y="684.2">3</text>
<text x="748.33" y="684.2">6</text>
<text x="841.67" y="684.2">12</text>
<text x="935.03" y="684.2">28</text>
</g>
<text y="704" font-size="12.3"><tspan x="763.05" textLength="28.6" lengthAdjust="spacingAndGlyphs">Time</tspan><tspan class="cj" font-size="8.8" x="792.42" dy="-0.6">（</tspan><tspan x="803.95" dy="0.6">d</tspan><tspan class="cj" font-size="8.8" x="814.42" dy="-0.6">）</tspan></text>
<text class="yl" x="0" y="0" font-size="11.04" text-anchor="middle" transform="translate(581.2 527.35) rotate(-90) scale(1.06 1)"><tspan font-style="italic">mokE</tspan> Relative expression level</text>
<rect x="627.7" y="421.1" width="27.8" height="11.8" fill="#f1f1f1" stroke="none"/>
<path d="M627.7 423.7h27.8M627.7 426.6h27.8M627.7 429.5h27.8" fill="none" stroke="#9a9a9a" stroke-width="0.9"/>
<rect x="627.7" y="421.1" width="27.8" height="11.8" fill="none" stroke="#707070" stroke-width="1.3"/>
<rect x="627.7" y="405.8" width="27.8" height="11.8" fill="url(#hr)" stroke="#ee2a2a" stroke-width="1.5"/>
<text class="lg" x="658.8" y="416.4" font-size="10" textLength="13.6" lengthAdjust="spacingAndGlyphs">M1</text>
<text class="lg" x="658.8" y="431.3" font-size="10" textLength="41.9" lengthAdjust="spacingAndGlyphs">CSUFT-1</text>
<path d="M642 598.7V489.7H666.2V505.3" fill="none" stroke="#111" stroke-width="1.15"/>
<text class="st" x="654.1" y="489.92" font-size="12.0" text-anchor="middle">**</text>
<path d="M737.5 621.7V571.7H760V587.5" fill="none" stroke="#111" stroke-width="1.15"/>
<text class="st" x="749.9" y="571.92" font-size="12.0" text-anchor="middle">**</text>
<path d="M828.7 600V529.5H853.3V545" fill="none" stroke="#111" stroke-width="1.15"/>
<text class="st" x="840.4" y="529.42" font-size="12.0" text-anchor="middle">**</text>
</g>
<g id="panel-F">
<line x1="1156.3" y1="645.45" x2="1529" y2="645.45" stroke="#9c9c9c" stroke-width="1.25" stroke-dasharray="3.75 3.52"/>
<line x1="1156.3" y1="624.21" x2="1529" y2="624.21" stroke="#9c9c9c" stroke-width="1.25" stroke-dasharray="3.75 3.52"/>
<line x1="1156.3" y1="602.96" x2="1529" y2="602.96" stroke="#9c9c9c" stroke-width="1.25" stroke-dasharray="3.75 3.52"/>
<line x1="1156.3" y1="581.72" x2="1529" y2="581.72" stroke="#9c9c9c" stroke-width="1.25" stroke-dasharray="3.75 3.52"/>
<line x1="1156.3" y1="560.47" x2="1529" y2="560.47" stroke="#9c9c9c" stroke-width="1.25" stroke-dasharray="3.75 3.52"/>
<line x1="1156.3" y1="539.22" x2="1529" y2="539.22" stroke="#9c9c9c" stroke-width="1.25" stroke-dasharray="3.75 3.52"/>
<line x1="1156.3" y1="517.98" x2="1529" y2="517.98" stroke="#9c9c9c" stroke-width="1.25" stroke-dasharray="3.75 3.52"/>
<line x1="1156.3" y1="496.73" x2="1529" y2="496.73" stroke="#9c9c9c" stroke-width="1.25" stroke-dasharray="3.75 3.52"/>
<line x1="1156.3" y1="475.48" x2="1529" y2="475.48" stroke="#cccccc" stroke-width="1.25" stroke-dasharray="3.75 3.52"/>
<line x1="1156.3" y1="454.24" x2="1529" y2="454.24" stroke="#9c9c9c" stroke-width="1.25" stroke-dasharray="3.75 3.52"/>
<line x1="1156.3" y1="432.99" x2="1529" y2="432.99" stroke="#9c9c9c" stroke-width="1.25" stroke-dasharray="3.75 3.52"/>
<line x1="1156.3" y1="411.75" x2="1529" y2="411.75" stroke="#9c9c9c" stroke-width="1.25" stroke-dasharray="3.75 3.52"/>
<rect x="1179.59" y="655.55" width="23.3" height="11.15" fill="url(#hr)" stroke="#ee2a2a" stroke-width="1.35"/>
<rect x="1202.89" y="446.27" width="23.3" height="220.43" fill="url(#hg)" stroke="#7a7a7a" stroke-width="1.2"/>
<rect x="1272.76" y="655.55" width="23.3" height="11.15" fill="url(#hr)" stroke="#ee2a2a" stroke-width="1.35"/>
<rect x="1296.06" y="661.39" width="23.3" height="5.31" fill="url(#hg)" stroke="#7a7a7a" stroke-width="1.2"/>
<rect x="1365.94" y="655.55" width="23.3" height="11.15" fill="url(#hr)" stroke="#ee2a2a" stroke-width="1.35"/>
<rect x="1389.24" y="648.32" width="23.3" height="18.38" fill="url(#hg)" stroke="#7a7a7a" stroke-width="1.2"/>
<rect x="1459.11" y="655.55" width="23.3" height="11.15" fill="url(#hr)" stroke="#ee2a2a" stroke-width="1.35"/>
<rect x="1482.41" y="661.39" width="23.3" height="5.31" fill="url(#hg)" stroke="#7a7a7a" stroke-width="1.2"/>
<path d="M1187.84 654.91H1194.64M1187.84 656.18H1194.64M1191.24 654.91V656.18" fill="none" stroke="#111" stroke-width="1.3"/>
<path d="M1211.14 423.43H1217.94M1211.14 469.11H1217.94M1214.54 423.43V469.11" fill="none" stroke="#111" stroke-width="1.3"/>
<path d="M1281.01 654.91H1287.81M1281.01 656.18H1287.81M1284.41 654.91V656.18" fill="none" stroke="#111" stroke-width="1.3"/>
<path d="M1304.31 660.86H1311.11M1304.31 661.92H1311.11M1307.71 660.86V661.92" fill="none" stroke="#111" stroke-width="1.3"/>
<path d="M1374.19 654.27H1380.99M1374.19 656.82H1380.99M1377.59 654.27V656.82" fill="none" stroke="#111" stroke-width="1.3"/>
<path d="M1397.49 647.26H1404.29M1397.49 649.38H1404.29M1400.89 647.26V649.38" fill="none" stroke="#111" stroke-width="1.3"/>
<path d="M1467.36 654.48H1474.16M1467.36 656.61H1474.16M1470.76 654.48V656.61" fill="none" stroke="#111" stroke-width="1.3"/>
<path d="M1490.66 660.86H1497.46M1490.66 661.92H1497.46M1494.06 660.86V661.92" fill="none" stroke="#111" stroke-width="1.3"/>
<path d="M1156.3 390.5H1529V666.7" fill="none" stroke="#2a2a2a" stroke-width="1.2"/>
<path d="M1156.3 390V666.7H1529.5" fill="none" stroke="#262626" stroke-width="1.7" stroke-linejoin="miter"/>
<path d="M1156.3 666.7h-5.7M1156.3 645.45h-5.7M1156.3 624.21h-5.7M1156.3 602.96h-5.7M1156.3 581.72h-5.7M1156.3 560.47h-5.7M1156.3 539.22h-5.7M1156.3 517.98h-5.7M1156.3 496.73h-5.7M1156.3 475.48h-5.7M1156.3 454.24h-5.7M1156.3 432.99h-5.7M1156.3 411.75h-5.7M1156.3 390.5h-5.7M1156.3 656.08h-3M1156.3 634.83h-3M1156.3 613.58h-3M1156.3 592.34h-3M1156.3 571.09h-3M1156.3 549.85h-3M1156.3 528.6h-3M1156.3 507.35h-3M1156.3 486.11h-3M1156.3 464.86h-3M1156.3 443.62h-3M1156.3 422.37h-3M1156.3 401.12h-3M1202.89 666.7v5.7M1296.06 666.7v5.7M1389.24 666.7v5.7M1482.41 666.7v5.7" fill="none" stroke="#111" stroke-width="1.3"/>
<g font-size="12.0" text-anchor="end">
<text x="1146" y="670.32">0</text>
<text x="1146" y="649.07">2</text>
<text x="1146" y="627.83">4</text>
<text x="1146" y="606.58">6</text>
<text x="1146" y="585.34">8</text>
<text x="1146" y="564.09">10</text>
<text x="1146" y="542.84">12</text>
<text x="1146" y="521.6">14</text>
<text x="1146" y="500.35">16</text>
<text x="1146" y="479.1">18</text>
<text x="1146" y="457.86">20</text>
<text x="1146" y="436.61">22</text>
<text x="1146" y="415.37">24</text>
<text x="1146" y="394.12">26</text>
</g>
<g font-size="12.0" text-anchor="middle">
<text x="1202.89" y="685.5">3</text>
<text x="1296.06" y="685.5">6</text>
<text x="1389.24" y="685.5">12</text>
<text x="1482.41" y="685.5">28</text>
</g>
<text y="705.1" font-size="12.3"><tspan x="1310.7" textLength="28.6" lengthAdjust="spacingAndGlyphs">Time</tspan><tspan class="cj" font-size="8.8" x="1340.07" dy="-0.6">（</tspan><tspan x="1351.6" dy="0.6">d</tspan><tspan class="cj" font-size="8.8" x="1362.07" dy="-0.6">）</tspan></text>
<text class="yl" x="0" y="0" font-size="11.04" text-anchor="middle" transform="translate(1121 528.6) rotate(-90) scale(1.06 1)"><tspan font-style="italic">mokF</tspan> Relative expression level</text>
<rect x="1402" y="413.3" width="27.8" height="11.8" fill="#f1f1f1" stroke="none"/>
<path d="M1402 415.9h27.8M1402 418.8h27.8M1402 421.7h27.8" fill="none" stroke="#9a9a9a" stroke-width="0.9"/>
<rect x="1402" y="413.3" width="27.8" height="11.8" fill="none" stroke="#707070" stroke-width="1.3"/>
<rect x="1402" y="398" width="27.8" height="11.8" fill="url(#hr)" stroke="#ee2a2a" stroke-width="1.5"/>
<text class="lg" x="1433.7" y="408.6" font-size="10" textLength="13.6" lengthAdjust="spacingAndGlyphs">M1</text>
<text class="lg" x="1433.7" y="423.5" font-size="10" textLength="41.9" lengthAdjust="spacingAndGlyphs">CSUFT-1</text>
<path d="M1189.2 625.3V403.3H1214.2V418.3" fill="none" stroke="#111" stroke-width="1.6"/>
<text class="st" x="1202.1" y="404.12" font-size="12.0" text-anchor="middle">**</text>
<path d="M1282.5 646.7V630.5H1306.3V650.5" fill="none" stroke="#111" stroke-width="1.15"/>
<text class="st" x="1295.4" y="631.42" font-size="12.0" text-anchor="middle">**</text>
<path d="M1376 646.7V625.3H1400.2V640.5" fill="none" stroke="#111" stroke-width="1.15"/>
<text class="st" x="1388.1" y="625.32" font-size="12.0" text-anchor="middle">*</text>
<path d="M1470.7 648.3V632.5H1494.3V647.5" fill="none" stroke="#111" stroke-width="1.15"/>
<text class="st" x="1483.6" y="632.82" font-size="12.0" text-anchor="middle">**</text>
</g>
<g id="panel-G">
<line x1="46.7" y1="1019.95" x2="420.3" y2="1019.95" stroke="#9c9c9c" stroke-width="1.25" stroke-dasharray="3.75 3.52"/>
<line x1="46.7" y1="992.3" x2="420.3" y2="992.3" stroke="#9c9c9c" stroke-width="1.25" stroke-dasharray="3.75 3.52"/>
<line x1="46.7" y1="964.65" x2="420.3" y2="964.65" stroke="#9c9c9c" stroke-width="1.25" stroke-dasharray="3.75 3.52"/>
<line x1="46.7" y1="937" x2="420.3" y2="937" stroke="#9c9c9c" stroke-width="1.25" stroke-dasharray="3.75 3.52"/>
<line x1="46.7" y1="909.35" x2="420.3" y2="909.35" stroke="#9c9c9c" stroke-width="1.25" stroke-dasharray="3.75 3.52"/>
<line x1="46.7" y1="881.7" x2="420.3" y2="881.7" stroke="#9c9c9c" stroke-width="1.25" stroke-dasharray="3.75 3.52"/>
<line x1="46.7" y1="854.05" x2="420.3" y2="854.05" stroke="#9c9c9c" stroke-width="1.25" stroke-dasharray="3.75 3.52"/>
<line x1="46.7" y1="826.4" x2="420.3" y2="826.4" stroke="#9c9c9c" stroke-width="1.25" stroke-dasharray="3.75 3.52"/>
<line x1="46.7" y1="798.75" x2="420.3" y2="798.75" stroke="#9c9c9c" stroke-width="1.25" stroke-dasharray="3.75 3.52"/>
<rect x="70" y="1019.4" width="23.4" height="28.2" fill="url(#hr)" stroke="#ee2a2a" stroke-width="1.35"/>
<rect x="93.4" y="1028.8" width="23.4" height="18.8" fill="url(#hg)" stroke="#7a7a7a" stroke-width="1.2"/>
<rect x="163.4" y="1019.95" width="23.4" height="27.65" fill="url(#hr)" stroke="#ee2a2a" stroke-width="1.35"/>
<rect x="186.8" y="817" width="23.4" height="230.6" fill="url(#hg)" stroke="#7a7a7a" stroke-width="1.2"/>
<rect x="256.8" y="1019.4" width="23.4" height="28.2" fill="url(#hr)" stroke="#ee2a2a" stroke-width="1.35"/>
<rect x="280.2" y="1014.14" width="23.4" height="33.46" fill="url(#hg)" stroke="#7a7a7a" stroke-width="1.2"/>
<rect x="350.2" y="1019.95" width="23.4" height="27.65" fill="url(#hr)" stroke="#ee2a2a" stroke-width="1.35"/>
<rect x="373.6" y="1040.69" width="23.4" height="6.91" fill="url(#hg)" stroke="#7a7a7a" stroke-width="1.2"/>
<path d="M78.3 1011.65H85.1M78.3 1027.14H85.1M81.7 1011.65V1027.14" fill="none" stroke="#111" stroke-width="1.3"/>
<path d="M101.7 1027.97H108.5M101.7 1029.63H108.5M105.1 1027.97V1029.63" fill="none" stroke="#111" stroke-width="1.3"/>
<path d="M171.7 1018.01H178.5M171.7 1021.89H178.5M175.1 1018.01V1021.89" fill="none" stroke="#111" stroke-width="1.3"/>
<path d="M195.1 815.62H201.9M195.1 818.38H201.9M198.5 815.62V818.38" fill="none" stroke="#111" stroke-width="1.3"/>
<path d="M265.1 1015.53H271.9M265.1 1023.27H271.9M268.5 1015.53V1023.27" fill="none" stroke="#111" stroke-width="1.3"/>
<path d="M288.5 1013.04H295.3M288.5 1015.25H295.3M291.9 1013.04V1015.25" fill="none" stroke="#111" stroke-width="1.3"/>
<path d="M358.5 1018.84H365.3M358.5 1021.06H365.3M361.9 1018.84V1021.06" fill="none" stroke="#111" stroke-width="1.3"/>
<path d="M381.9 1040.41H388.7M381.9 1040.96H388.7M385.3 1040.41V1040.96" fill="none" stroke="#111" stroke-width="1.3"/>
<path d="M46.7 771.1H420.3V1047.6" fill="none" stroke="#2a2a2a" stroke-width="1.2"/>
<path d="M46.7 770.6V1047.6H420.8" fill="none" stroke="#262626" stroke-width="1.7" stroke-linejoin="miter"/>
<path d="M46.7 1047.6h-5.7M46.7 1019.95h-5.7M46.7 992.3h-5.7M46.7 964.65h-5.7M46.7 937h-5.7M46.7 909.35h-5.7M46.7 881.7h-5.7M46.7 854.05h-5.7M46.7 826.4h-5.7M46.7 798.75h-5.7M46.7 771.1h-5.7M46.7 1033.77h-3M46.7 1006.12h-3M46.7 978.47h-3M46.7 950.82h-3M46.7 923.17h-3M46.7 895.52h-3M46.7 867.88h-3M46.7 840.23h-3M46.7 812.58h-3M46.7 784.92h-3M93.4 1047.6v5.7M186.8 1047.6v5.7M280.2 1047.6v5.7M373.6 1047.6v5.7" fill="none" stroke="#111" stroke-width="1.3"/>
<g font-size="12.0" text-anchor="end">
<text x="36.4" y="1051.22">0</text>
<text x="36.4" y="1023.57">1</text>
<text x="36.4" y="995.92">2</text>
<text x="36.4" y="968.27">3</text>
<text x="36.4" y="940.62">4</text>
<text x="36.4" y="912.97">5</text>
<text x="36.4" y="885.32">6</text>
<text x="36.4" y="857.67">7</text>
<text x="36.4" y="830.02">8</text>
<text x="36.4" y="802.37">9</text>
<text x="36.4" y="774.72">10</text>
</g>
<g font-size="12.0" text-anchor="middle">
<text x="93.4" y="1066">3</text>
<text x="186.8" y="1066">6</text>
<text x="280.2" y="1066">12</text>
<text x="373.6" y="1066">28</text>
</g>
<text y="1083.5" font-size="11.3"><tspan x="201.55" textLength="28.6" lengthAdjust="spacingAndGlyphs">Time</tspan><tspan class="cj" font-size="8.8" x="230.92" dy="-0.6">（</tspan><tspan x="242.45" dy="0.6">d</tspan><tspan class="cj" font-size="8.8" x="252.92" dy="-0.6">）</tspan></text>
<text class="yl" x="0" y="0" font-size="11.04" text-anchor="middle" transform="translate(13.4 924.35) rotate(-90) scale(1.06 1)"><tspan font-style="italic">mokG</tspan>  Relative expression level</text>
<rect x="68" y="799.1" width="27.8" height="11.8" fill="#f1f1f1" stroke="none"/>
<path d="M68 801.7h27.8M68 804.6h27.8M68 807.5h27.8" fill="none" stroke="#9a9a9a" stroke-width="0.9"/>
<rect x="68" y="799.1" width="27.8" height="11.8" fill="none" stroke="#707070" stroke-width="1.3"/>
<rect x="68" y="783.8" width="27.8" height="11.8" fill="url(#hr)" stroke="#ee2a2a" stroke-width="1.5"/>
<text class="lg" x="99.7" y="794.4" font-size="10" textLength="13.6" lengthAdjust="spacingAndGlyphs">M1</text>
<text class="lg" x="99.7" y="809.3" font-size="10" textLength="41.9" lengthAdjust="spacingAndGlyphs">CSUFT-1</text>
<path d="M173.8 994.3V794.2H198.8V809.7" fill="none" stroke="#111" stroke-width="1.6"/>
<text class="st" x="187.9" y="794.82" font-size="12.0" text-anchor="middle">***</text>
<path d="M361.3 1009V992.3H384.7V1027.2" fill="none" stroke="#111" stroke-width="1.15"/>
<text class="st" x="372.9" y="992.92" font-size="12.0" text-anchor="middle">**</text>
</g>
<g id="panel-H">
<line x1="610.5" y1="1009.63" x2="983.3" y2="1009.63" stroke="#9c9c9c" stroke-width="1.25" stroke-dasharray="3.75 3.52"/>
<line x1="610.5" y1="963.67" x2="983.3" y2="963.67" stroke="#9c9c9c" stroke-width="1.25" stroke-dasharray="3.75 3.52"/>
<line x1="610.5" y1="917.7" x2="983.3" y2="917.7" stroke="#9c9c9c" stroke-width="1.25" stroke-dasharray="3.75 3.52"/>
<line x1="610.5" y1="871.73" x2="983.3" y2="871.73" stroke="#9c9c9c" stroke-width="1.25" stroke-dasharray="3.75 3.52"/>
<line x1="610.5" y1="825.77" x2="983.3" y2="825.77" stroke="#9c9c9c" stroke-width="1.25" stroke-dasharray="3.75 3.52"/>
<rect x="629" y="1009.63" width="28.1" height="45.97" fill="url(#hr)" stroke="#ee2a2a" stroke-width="1.35"/>
<rect x="657.1" y="870.81" width="28.1" height="184.79" fill="url(#hg)" stroke="#7a7a7a" stroke-width="1.2"/>
<rect x="722.2" y="1009.63" width="28.1" height="45.97" fill="url(#hr)" stroke="#ee2a2a" stroke-width="1.35"/>
<rect x="750.3" y="1044.38" width="28.1" height="11.22" fill="url(#hg)" stroke="#7a7a7a" stroke-width="1.2"/>
<rect x="815.4" y="1009.63" width="28.1" height="45.97" fill="url(#hr)" stroke="#ee2a2a" stroke-width="1.35"/>
<rect x="843.5" y="1029.4" width="28.1" height="26.2" fill="url(#hg)" stroke="#7a7a7a" stroke-width="1.2"/>
<rect x="908.6" y="1032.71" width="28.1" height="22.89" fill="url(#hr)" stroke="#ee2a2a" stroke-width="1.35"/>
<rect x="936.7" y="1036.89" width="28.1" height="18.71" fill="url(#hg)" stroke="#7a7a7a" stroke-width="1.2"/>
<path d="M639.65 1008.71H646.45M639.65 1010.55H646.45M643.05 1008.71V1010.55" fill="none" stroke="#111" stroke-width="1.3"/>
<path d="M667.75 850.59H674.55M667.75 891.04H674.55M671.15 850.59V891.04" fill="none" stroke="#111" stroke-width="1.3"/>
<path d="M732.85 1006.42H739.65M732.85 1012.85H739.65M736.25 1006.42V1012.85" fill="none" stroke="#111" stroke-width="1.3"/>
<path d="M760.95 1043.92H767.75M760.95 1044.84H767.75M764.35 1043.92V1044.84" fill="none" stroke="#111" stroke-width="1.3"/>
<path d="M826.05 1006.42H832.85M826.05 1012.85H832.85M829.45 1006.42V1012.85" fill="none" stroke="#111" stroke-width="1.3"/>
<path d="M854.15 1027.56H860.95M854.15 1031.24H860.95M857.55 1027.56V1031.24" fill="none" stroke="#111" stroke-width="1.3"/>
<path d="M919.25 1031.33H926.05M919.25 1034.09H926.05M922.65 1031.33V1034.09" fill="none" stroke="#111" stroke-width="1.3"/>
<path d="M947.35 1035.97H954.15M947.35 1037.81H954.15M950.75 1035.97V1037.81" fill="none" stroke="#111" stroke-width="1.3"/>
<path d="M610.5 779.8H983.3V1055.6" fill="none" stroke="#2a2a2a" stroke-width="1.2"/>
<path d="M610.5 779.3V1055.6H983.8" fill="none" stroke="#262626" stroke-width="1.7" stroke-linejoin="miter"/>
<path d="M610.5 1055.6h-5.7M610.5 1009.63h-5.7M610.5 963.67h-5.7M610.5 917.7h-5.7M610.5 871.73h-5.7M610.5 825.77h-5.7M610.5 779.8h-5.7M610.5 1032.62h-3M610.5 986.65h-3M610.5 940.68h-3M610.5 894.72h-3M610.5 848.75h-3M610.5 802.78h-3M657.1 1055.6v5.7M750.3 1055.6v5.7M843.5 1055.6v5.7M936.7 1055.6v5.7" fill="none" stroke="#111" stroke-width="1.3"/>
<g font-size="12.0" text-anchor="end">
<text x="600.2" y="1059.22">0</text>
<text x="600.2" y="1013.25">1</text>
<text x="600.2" y="967.29">2</text>
<text x="600.2" y="921.32">3</text>
<text x="600.2" y="875.35">4</text>
<text x="600.2" y="829.39">5</text>
<text x="600.2" y="783.42">6</text>
</g>
<g font-size="12.0" text-anchor="middle">
<text x="657.1" y="1074.4">3</text>
<text x="750.3" y="1074.4">6</text>
<text x="843.5" y="1074.4">12</text>
<text x="936.7" y="1074.4">28</text>
</g>
<text y="1093.6" font-size="12.3"><tspan x="764.95" textLength="28.6" lengthAdjust="spacingAndGlyphs">Time</tspan><tspan class="cj" font-size="8.8" x="794.32" dy="-0.6">（</tspan><tspan x="805.85" dy="0.6">d</tspan><tspan class="cj" font-size="8.8" x="816.32" dy="-0.6">）</tspan></text>
<text class="yl" x="0" y="0" font-size="11.04" text-anchor="middle" transform="translate(583.2 917.7) rotate(-90) scale(1.06 1)"><tspan font-style="italic">mokH</tspan> Relative expression level</text>
<rect x="889.2" y="803.3" width="27.8" height="11.8" fill="#f1f1f1" stroke="none"/>
<path d="M889.2 805.9h27.8M889.2 808.8h27.8M889.2 811.7h27.8" fill="none" stroke="#9a9a9a" stroke-width="0.9"/>
<rect x="889.2" y="803.3" width="27.8" height="11.8" fill="none" stroke="#707070" stroke-width="1.3"/>
<rect x="889.2" y="788" width="27.8" height="11.8" fill="url(#hr)" stroke="#ee2a2a" stroke-width="1.5"/>
<text class="lg" x="920.8" y="798.6" font-size="10" textLength="13.6" lengthAdjust="spacingAndGlyphs">M1</text>
<text class="lg" x="920.8" y="813.5" font-size="10" textLength="41.9" lengthAdjust="spacingAndGlyphs">CSUFT-1</text>
<path d="M642.8 985.2V832.5H671.2V843.3" fill="none" stroke="#111" stroke-width="1.15"/>
<text class="st" x="659.6" y="833.62" font-size="12.0" text-anchor="middle">**</text>
<path d="M735.8 999.3V985.7H764.5V1026.3" fill="none" stroke="#111" stroke-width="1.15"/>
<text class="st" x="750.1" y="987.42" font-size="12.0" text-anchor="middle">**</text>
<path d="M828.8 998.5V984.3H858.3V1015.5" fill="none" stroke="#111" stroke-width="1.15"/>
<text class="st" x="843.4" y="987.12" font-size="12.0" text-anchor="middle">*</text>
</g>
<g id="panel-I">
<line x1="1155.5" y1="1017.3" x2="1528.5" y2="1017.3" stroke="#9c9c9c" stroke-width="1.25" stroke-dasharray="3.75 3.52"/>
<line x1="1155.5" y1="977.8" x2="1528.5" y2="977.8" stroke="#9c9c9c" stroke-width="1.25" stroke-dasharray="3.75 3.52"/>
<line x1="1155.5" y1="938.3" x2="1528.5" y2="938.3" stroke="#9c9c9c" stroke-width="1.25" stroke-dasharray="3.75 3.52"/>
<line x1="1155.5" y1="898.8" x2="1528.5" y2="898.8" stroke="#9c9c9c" stroke-width="1.25" stroke-dasharray="3.75 3.52"/>
<line x1="1155.5" y1="859.3" x2="1528.5" y2="859.3" stroke="#9c9c9c" stroke-width="1.25" stroke-dasharray="3.75 3.52"/>
<line x1="1155.5" y1="819.8" x2="1528.5" y2="819.8" stroke="#9c9c9c" stroke-width="1.25" stroke-dasharray="3.75 3.52"/>
<rect x="1178.72" y="1017.3" width="23.4" height="39.5" fill="url(#hr)" stroke="#ee2a2a" stroke-width="1.35"/>
<rect x="1202.12" y="859.3" width="23.4" height="197.5" fill="url(#hg)" stroke="#7a7a7a" stroke-width="1.2"/>
<rect x="1271.97" y="1017.3" width="23.4" height="39.5" fill="url(#hr)" stroke="#ee2a2a" stroke-width="1.35"/>
<rect x="1295.38" y="924.08" width="23.4" height="132.72" fill="url(#hg)" stroke="#7a7a7a" stroke-width="1.2"/>
<rect x="1365.22" y="1017.3" width="23.4" height="39.5" fill="url(#hr)" stroke="#ee2a2a" stroke-width="1.35"/>
<rect x="1388.62" y="1038.51" width="23.4" height="18.29" fill="url(#hg)" stroke="#7a7a7a" stroke-width="1.2"/>
<rect x="1458.47" y="1017.3" width="23.4" height="39.5" fill="url(#hr)" stroke="#ee2a2a" stroke-width="1.35"/>
<rect x="1481.88" y="1044" width="23.4" height="12.8" fill="url(#hg)" stroke="#7a7a7a" stroke-width="1.2"/>
<path d="M1187.02 1013.75H1193.83M1187.02 1020.85H1193.83M1190.42 1013.75V1020.85" fill="none" stroke="#111" stroke-width="1.3"/>
<path d="M1210.42 841.13H1217.23M1210.42 877.47H1217.23M1213.83 841.13V877.47" fill="none" stroke="#111" stroke-width="1.3"/>
<path d="M1280.27 1015.32H1287.08M1280.27 1019.27H1287.08M1283.67 1015.32V1019.27" fill="none" stroke="#111" stroke-width="1.3"/>
<path d="M1303.67 921.71H1310.48M1303.67 926.45H1310.48M1307.08 921.71V926.45" fill="none" stroke="#111" stroke-width="1.3"/>
<path d="M1373.52 1015.72H1380.33M1373.52 1018.88H1380.33M1376.92 1015.72V1018.88" fill="none" stroke="#111" stroke-width="1.3"/>
<path d="M1396.92 1038.12H1403.73M1396.92 1038.91H1403.73M1400.33 1038.12V1038.91" fill="none" stroke="#111" stroke-width="1.3"/>
<path d="M1466.77 1016.12H1473.58M1466.77 1018.48H1473.58M1470.17 1016.12V1018.48" fill="none" stroke="#111" stroke-width="1.3"/>
<path d="M1490.17 1042.82H1496.98M1490.17 1045.19H1496.98M1493.58 1042.82V1045.19" fill="none" stroke="#111" stroke-width="1.3"/>
<path d="M1155.5 780.3H1528.5V1056.8" fill="none" stroke="#2a2a2a" stroke-width="1.2"/>
<path d="M1155.5 779.8V1056.8H1529" fill="none" stroke="#262626" stroke-width="1.7" stroke-linejoin="miter"/>
<path d="M1155.5 1056.8h-5.7M1155.5 1017.3h-5.7M1155.5 977.8h-5.7M1155.5 938.3h-5.7M1155.5 898.8h-5.7M1155.5 859.3h-5.7M1155.5 819.8h-5.7M1155.5 780.3h-5.7M1155.5 1037.05h-3M1155.5 997.55h-3M1155.5 958.05h-3M1155.5 918.55h-3M1155.5 879.05h-3M1155.5 839.55h-3M1155.5 800.05h-3M1202.12 1056.8v5.7M1295.38 1056.8v5.7M1388.62 1056.8v5.7M1481.88 1056.8v5.7" fill="none" stroke="#111" stroke-width="1.3"/>
<g font-size="12.0" text-anchor="end">
<text x="1145.2" y="1060.42">0</text>
<text x="1145.2" y="1020.92">1</text>
<text x="1145.2" y="981.42">2</text>
<text x="1145.2" y="941.92">3</text>
<text x="1145.2" y="902.42">4</text>
<text x="1145.2" y="862.92">5</text>
<text x="1145.2" y="823.42">6</text>
<text x="1145.2" y="783.92">7</text>
</g>
<g font-size="12.0" text-anchor="middle">
<text x="1202.12" y="1074.8">3</text>
<text x="1295.38" y="1074.8">6</text>
<text x="1388.62" y="1074.8">12</text>
<text x="1481.88" y="1074.8">28</text>
</g>
<text y="1092.8" font-size="12.3"><tspan x="1310.05" textLength="28.6" lengthAdjust="spacingAndGlyphs">Time</tspan><tspan class="cj" font-size="8.8" x="1339.42" dy="-0.6">（</tspan><tspan x="1350.95" dy="0.6">d</tspan><tspan class="cj" font-size="8.8" x="1361.42" dy="-0.6">）</tspan></text>
<text class="yl" x="0" y="0" font-size="11.04" text-anchor="middle" transform="translate(1128.2 918.55) rotate(-90) scale(1.06 1)"><tspan font-style="italic">mokI</tspan> Relative expression level</text>
<rect x="1440.8" y="803.6" width="27.8" height="11.8" fill="#f1f1f1" stroke="none"/>
<path d="M1440.8 806.2h27.8M1440.8 809.1h27.8M1440.8 812h27.8" fill="none" stroke="#9a9a9a" stroke-width="0.9"/>
<rect x="1440.8" y="803.6" width="27.8" height="11.8" fill="none" stroke="#707070" stroke-width="1.3"/>
<rect x="1440.8" y="788.3" width="27.8" height="11.8" fill="url(#hr)" stroke="#ee2a2a" stroke-width="1.5"/>
<text class="lg" x="1472.8" y="798.9" font-size="10" textLength="13.6" lengthAdjust="spacingAndGlyphs">M1</text>
<text class="lg" x="1472.8" y="813.8" font-size="10" textLength="41.9" lengthAdjust="spacingAndGlyphs">CSUFT-1</text>
<path d="M1189.5 997.3V817.5H1213V830.8" fill="none" stroke="#111" stroke-width="1.6"/>
<text class="st" x="1202.9" y="818.12" font-size="12.0" text-anchor="middle">**</text>
<path d="M1283 1006.5V903.3H1306.3V916.7" fill="none" stroke="#111" stroke-width="1.5"/>
<text class="st" x="1295.7" y="904.12" font-size="12.0" text-anchor="middle">***</text>
<path d="M1377.3 1009.7V995.7H1399.3V1027.7" fill="none" stroke="#111" stroke-width="1.15"/>
<text class="st" x="1388.6" y="997.42" font-size="12.0" text-anchor="middle">**</text>
<path d="M1468.5 1010.7V996.5H1492.7V1034" fill="none" stroke="#111" stroke-width="1.15"/>
<text class="st" x="1481.4" y="997.62" font-size="12.0" text-anchor="middle">**</text>
</g>
</svg></body></html>
